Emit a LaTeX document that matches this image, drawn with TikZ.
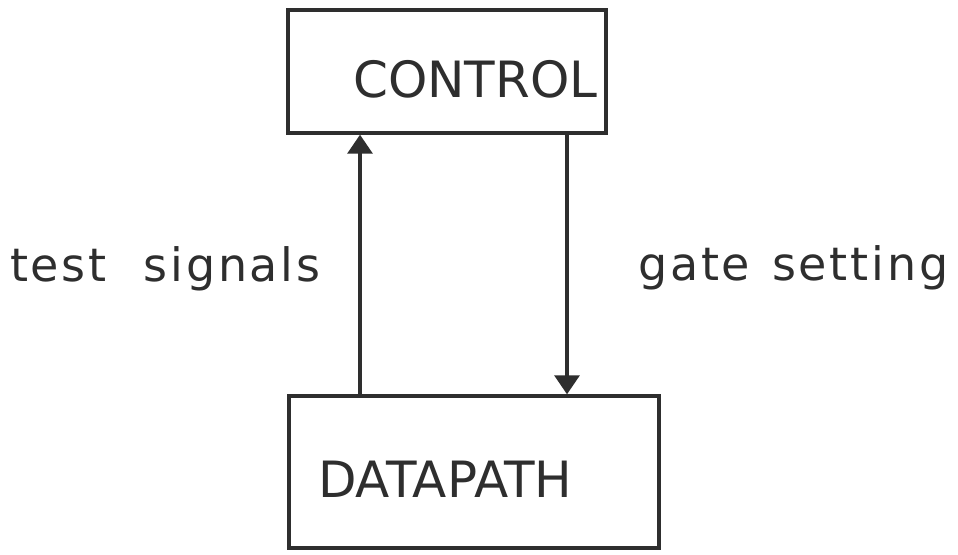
\documentclass[tikz,border=0pt]{standalone}
\usepackage{fontspec}
\setmainfont{DejaVu Sans}
\newfontfamily\lblfont[LetterSpace=6]{DejaVu Sans}
\usetikzlibrary{arrows.meta}
\definecolor{ink}{HTML}{2E2E2E}
\tikzset{
  box/.style={draw=ink, line width=3.4pt, rectangle, inner sep=0pt},
  title/.style={text=ink, font=\fontsize{50}{50}\selectfont, anchor=base west, inner sep=0pt},
  lbl/.style={text=ink, font=\lblfont\fontsize{46}{46}\selectfont, anchor=base west, inner sep=0pt},
  arr/.style={draw=ink, line width=3.2pt, -{Triangle[width=25pt,length=19pt]}}
}
\begin{document}
\begin{tikzpicture}[x=1pt,y=-1pt]
\useasboundingbox (0,0) rectangle (958,554);
\fill[white] (0,0) rectangle (958,554);
\node[box, minimum width=318pt, minimum height=123pt] (control) at (447,71.5) {};
\node[box, minimum width=370pt, minimum height=152pt] (datapath) at (474,472) {};
\node[title] (ctext) at (353,97) {CONTROL};
\node[title] (dtext) at (318,497) {DATAPATH};
\node[lbl] (test) at (10,281) {\mbox{test}\kern37pt\mbox{signals}};
\node[lbl] (gate) at (638,280) {\mbox{gate}\kern22pt\mbox{setting}};
\coordinate (xl) at (360,0);
\coordinate (xr) at (567,0);
\draw[arr] (datapath.north -| xl) -- (control.south -| xl);
\draw[arr] (control.south -| xr) -- (datapath.north -| xr);
\end{tikzpicture}
\end{document}
